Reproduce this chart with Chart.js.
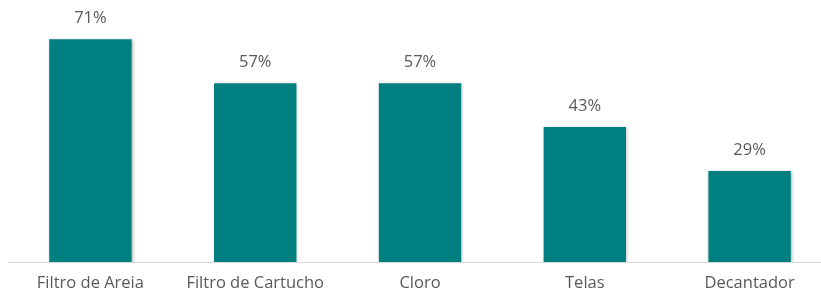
<!DOCTYPE html>
<html>
<head>
<meta charset="utf-8">
<script src="https://cdn.jsdelivr.net/npm/chart.js@4/dist/chart.umd.min.js"></script>
<style>
    html, body { margin: 0; padding: 0; background: #fff; overflow: hidden; }
    #wrap { width: 834px; height: 294px; }
</style>
</head>
<body>
<div id="wrap"><canvas id="treatChart" width="834" height="294"></canvas></div>
<script>
/****************************** Data ********************************/
const categories = ["Filtro de Areia", "Filtro de Cartucho", "Cloro", "Telas", "Decantador"];
const shares = [71, 57, 57, 43, 29];

const barColor = "#008080";
const textColor = "#595959";
const fontFamily = "'Open Sans', sans-serif";

// soft shadow under the bars, like the office chart
const barShadow = {
    id: "barShadow",
    beforeDatasetsDraw(chart) {
        const ctx = chart.ctx;
        ctx.save();
        ctx.shadowColor = "rgba(0, 0, 0, 0.3)";
        ctx.shadowBlur = 3;
        ctx.shadowOffsetX = 1;
        ctx.shadowOffsetY = 1;
    },
    afterDatasetsDraw(chart) {
        chart.ctx.restore();
    }
};

// draws "71%" etc. above each bar
const valueLabels = {
    id: "valueLabels",
    afterDatasetsDraw(chart) {
        const ctx = chart.ctx;
        const meta = chart.getDatasetMeta(0);
        ctx.save();
        ctx.font = "16.5px " + fontFamily;
        ctx.fillStyle = textColor;
        ctx.textAlign = "center";
        ctx.textBaseline = "middle";
        meta.data.forEach(function (bar, i) {
            ctx.fillText(shares[i] + "%", bar.x, bar.y - 21);
        });
        ctx.restore();
    }
};

new Chart(document.getElementById("treatChart"), {
    type: "bar",
    data: {
        labels: categories,
        datasets: [{
            data: shares,
            backgroundColor: barColor,
            borderWidth: 0,
            barPercentage: 0.5,
            categoryPercentage: 1
        }]
    },
    options: {
        responsive: false,
        animation: false,
        layout: { padding: { left: 8, right: 2, top: 11, bottom: 0 } },
        plugins: {
            legend: { display: false },
            tooltip: { enabled: false }
        },
        scales: {
            x: {
                grid: { display: false },
                border: { color: "#d9d9d9", width: 1 },
                ticks: {
                    color: textColor,
                    font: { family: fontFamily, size: 16.5 },
                    padding: 3,
                    maxRotation: 0,
                    autoSkip: false
                },
                afterFit: function (scale) {
                    scale.height = 32;
                }
            },
            y: {
                display: false,
                min: 0,
                max: 80
            }
        }
    },
    plugins: [barShadow, valueLabels]
});
</script>
</body>
</html>
